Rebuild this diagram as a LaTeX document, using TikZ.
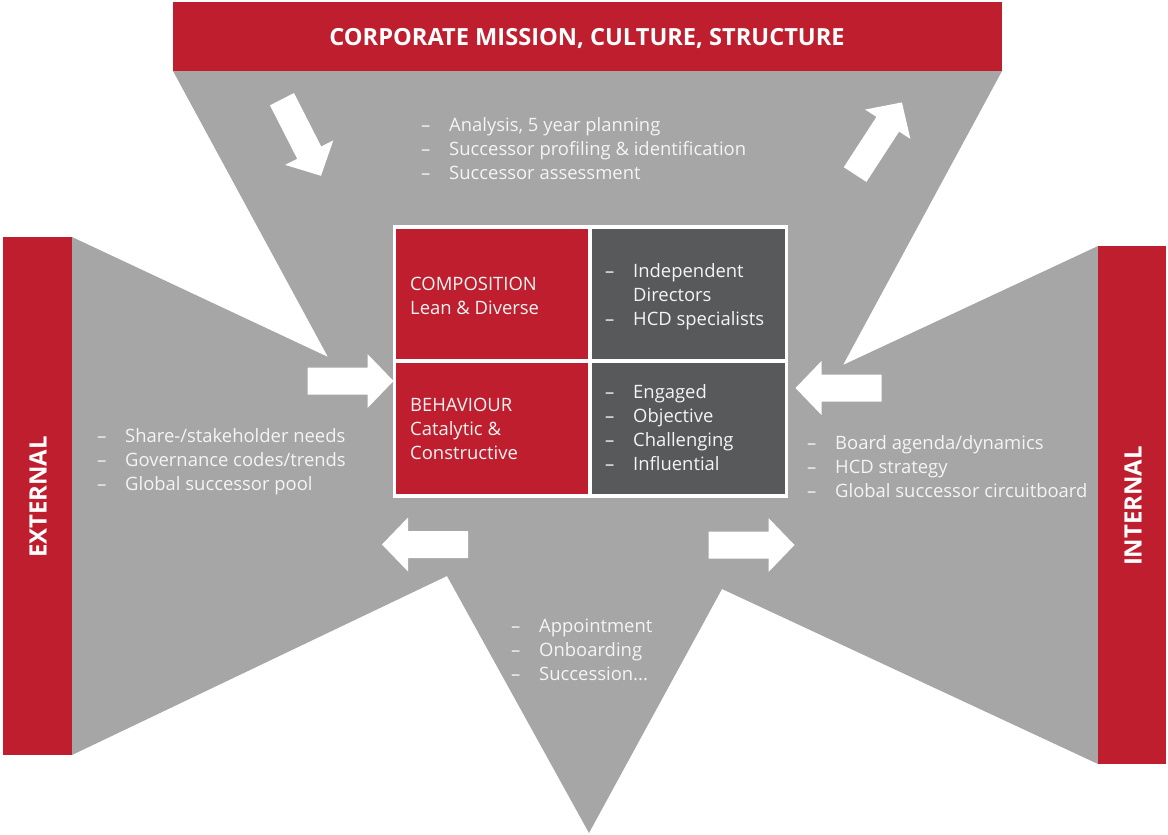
\documentclass[tikz,border=0pt]{standalone}
\usepackage{fontspec}
\setmainfont{Open Sans}
\definecolor{cred}{RGB}{190,30,45}
\definecolor{cgray}{RGB}{166,166,166}
\definecolor{cdark}{RGB}{88,89,91}
\definecolor{ctext}{RGB}{244,244,244}
\newcommand\dlist[1]{\begin{tabular}[t]{@{}p{28bp}@{}l@{}}#1\end{tabular}}
\tikzset{
  barrow/.pic={\fill[white] (-43,-13.5) -- (17,-13.5) -- (17,-27) -- (43,0) -- (17,27) -- (17,13.5) -- (-43,13.5) -- cycle;},
  lst/.style={anchor=base west, inner sep=0pt, text=ctext, font=\fontsize{18.5}{24.2}\selectfont},
  bartext/.style={text=white, inner sep=0pt, font=\bfseries\fontsize{24}{24}\selectfont},
}
\begin{document}
\begin{tikzpicture}[x=1bp,y=-1bp]
\useasboundingbox (0,0) rectangle (1168,835);
% gray funnel shape
\fill[cgray] (173,71) -- (1002,71) -- (843,365) -- (1098,246) -- (1098,764) -- (722,589)
  -- (589,833) -- (447,576) -- (72,755) -- (72,237) -- (328,357) -- cycle;
% red bars
\fill[cred] (173,2) rectangle (1002,71);
\fill[cred] (3,237) rectangle (72,755);
\fill[cred] (1098,246) rectangle (1166,764);
\node[bartext, font=\bfseries\fontsize{23.7}{24}\selectfont] (title) at (587,38) {CORPORATE MISSION, CULTURE, STRUCTURE};
\node[bartext, rotate=90] (ext) at (38,497) {EXTERNAL};
\node[bartext, rotate=90] (int) at (1133,506) {INTERNAL};
% arrows
\pic[rotate=-63] at (301.5,137.5) {barrow};
\pic[rotate=57] at (878.5,138.5) {barrow};
\pic at (350.5,381) {barrow};
\pic[rotate=180] at (838.5,388) {barrow};
\pic[rotate=180] at (425,544.5) {barrow};
\pic at (751.5,545) {barrow};
% central grid
\fill[white] (393,225) rectangle (788,498);
\fill[cred] (396,229) rectangle (588,359);
\fill[cdark] (592,229) rectangle (785,359);
\fill[cred] (396,363) rectangle (588,494);
\fill[cdark] (592,363) rectangle (785,494);
% lists
\node[lst] (top) at (421,131) {\dlist{--&Analysis, 5 year planning\\--&Successor profiling \& identification\\--&Successor assessment}};
\node[lst] (left) at (97,442) {\dlist{--&Share-/stakeholder needs\\--&Governance codes/trends\\--&Global successor pool}};
\node[lst] (right) at (807,449) {\dlist{--&Board agenda/dynamics\\--&HCD strategy\\--&Global successor circuitboard}};
\node[lst] (bottom) at (511,632) {\dlist{--&Appointment\\--&Onboarding\\--&Succession...}};
\node[lst] (comp) at (410,290) {\begin{tabular}[t]{@{}l@{}}COMPOSITION\\Lean \& Diverse\end{tabular}};
\node[lst] (beh) at (410,411) {\begin{tabular}[t]{@{}l@{}}BEHAVIOUR\\Catalytic \&\\Constructive\end{tabular}};
\node[lst] (compr) at (605,277) {\dlist{--&Independent\\&Directors\\--&HCD specialists}};
\node[lst] (behr) at (605,398) {\dlist{--&Engaged\\--&Objective\\--&Challenging\\--&Influential}};
\end{tikzpicture}
\end{document}
